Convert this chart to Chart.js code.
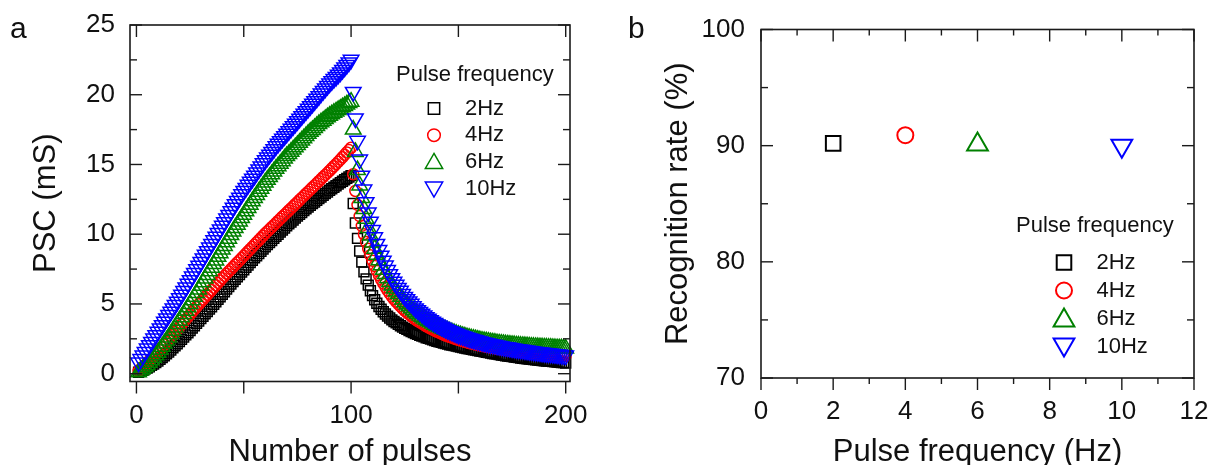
<!DOCTYPE html>
<html>
<head>
<meta charset="utf-8">
<script src="https://cdn.jsdelivr.net/npm/chart.js@4.4.1/dist/chart.umd.min.js"></script>
<style>
  html, body { margin: 0; padding: 0; background: #fff; overflow: hidden; width: 1210px; height: 465px; }
  .panel { position: absolute; top: 0; }
  #boxA { left: 0; }
  #boxB { left: 600px; }
  .tag { position: absolute; font: 30px "Liberation Sans", Arial, sans-serif; line-height: 30px; color: #111; }
</style>
</head>
<body>
<div class="panel" id="boxA"><canvas id="chartA" width="605" height="465"></canvas></div>
<div class="panel" id="boxB"><canvas id="chartB" width="640" height="465"></canvas></div>
<div class="tag" style="left:10px;top:13px">a</div>
<div class="tag" style="left:628px;top:13px">b</div>
<script>
// panel a: PSC vs pulse number (pulses 1..100 stimulated, 101..200 decay)
const pulses = Array.from({ length: 200 }, (_, i) => i + 1);

const psc2Hz = [
  0.1, 0.18, 0.25, 0.33, 0.4, 0.5, 0.6, 0.7, 0.8, 0.9,
  1.03, 1.16, 1.29, 1.42, 1.55, 1.7, 1.85, 2.0, 2.15, 2.3,
  2.46, 2.62, 2.78, 2.94, 3.1, 3.27, 3.44, 3.61, 3.78, 3.95,
  4.12, 4.29, 4.46, 4.63, 4.8, 4.98, 5.16, 5.34, 5.52, 5.7,
  5.88, 6.06, 6.24, 6.42, 6.6, 6.77, 6.94, 7.11, 7.28, 7.45,
  7.62, 7.79, 7.96, 8.13, 8.3, 8.46, 8.62, 8.78, 8.94, 9.1,
  9.25, 9.4, 9.55, 9.7, 9.85, 10.0, 10.15, 10.3, 10.45, 10.6,
  10.74, 10.88, 11.02, 11.16, 11.3, 11.43, 11.56, 11.69, 11.82, 11.95,
  12.07, 12.19, 12.31, 12.43, 12.55, 12.67, 12.79, 12.91, 13.03, 13.15,
  13.26, 13.37, 13.48, 13.59, 13.7, 13.8, 13.9, 14.0, 14.1, 14.2,
  12.2, 10.8, 9.7, 8.8, 8.0, 7.3, 6.8, 6.35, 5.95, 5.6,
  5.3, 5.05, 4.82, 4.62, 4.44, 4.28, 4.13, 3.99, 3.86, 3.74,
  3.64, 3.54, 3.44, 3.34, 3.25, 3.18, 3.1, 3.02, 2.95, 2.88,
  2.82, 2.76, 2.7, 2.64, 2.58, 2.53, 2.48, 2.43, 2.38, 2.33,
  2.29, 2.25, 2.2, 2.16, 2.12, 2.08, 2.05, 2.01, 1.98, 1.94,
  1.91, 1.88, 1.84, 1.81, 1.78, 1.75, 1.72, 1.69, 1.66, 1.63,
  1.6, 1.57, 1.54, 1.51, 1.48, 1.45, 1.42, 1.4, 1.37, 1.34,
  1.32, 1.29, 1.27, 1.24, 1.22, 1.2, 1.18, 1.15, 1.13, 1.11,
  1.09, 1.07, 1.05, 1.03, 1.01, 0.99, 0.98, 0.96, 0.95, 0.93,
  0.91, 0.9, 0.88, 0.87, 0.85, 0.83, 0.82, 0.8, 0.79, 0.77
];

const psc4Hz = [
  0.2, 0.34, 0.48, 0.61, 0.75, 0.91, 1.07, 1.23, 1.39, 1.55,
  1.73, 1.91, 2.09, 2.27, 2.45, 2.63, 2.81, 2.99, 3.17, 3.35,
  3.53, 3.71, 3.89, 4.07, 4.25, 4.43, 4.61, 4.79, 4.97, 5.15,
  5.32, 5.49, 5.66, 5.83, 6.0, 6.17, 6.34, 6.51, 6.68, 6.85,
  7.01, 7.17, 7.33, 7.49, 7.65, 7.81, 7.97, 8.13, 8.29, 8.45,
  8.61, 8.77, 8.93, 9.09, 9.25, 9.41, 9.57, 9.73, 9.89, 10.05,
  10.2, 10.35, 10.5, 10.65, 10.8, 10.95, 11.1, 11.25, 11.4, 11.55,
  11.7, 11.85, 12.0, 12.15, 12.3, 12.45, 12.6, 12.75, 12.9, 13.05,
  13.2, 13.35, 13.5, 13.65, 13.8, 13.95, 14.1, 14.25, 14.4, 14.55,
  14.71, 14.87, 15.03, 15.19, 15.35, 15.52, 15.69, 15.86, 16.03, 16.2,
  14.3, 13.1, 12.1, 11.3, 10.6, 10.0, 9.45, 8.95, 8.5, 8.1,
  7.72, 7.37, 7.05, 6.75, 6.47, 6.21, 5.97, 5.74, 5.53, 5.33,
  5.16, 4.99, 4.83, 4.66, 4.5, 4.38, 4.25, 4.13, 4.0, 3.88,
  3.78, 3.69, 3.59, 3.5, 3.4, 3.32, 3.24, 3.16, 3.08, 3.0,
  2.94, 2.87, 2.81, 2.74, 2.68, 2.63, 2.58, 2.52, 2.47, 2.42,
  2.38, 2.33, 2.29, 2.24, 2.2, 2.16, 2.13, 2.09, 2.06, 2.02,
  1.99, 1.96, 1.93, 1.9, 1.87, 1.84, 1.82, 1.79, 1.77, 1.74,
  1.72, 1.7, 1.67, 1.65, 1.63, 1.61, 1.59, 1.58, 1.56, 1.54,
  1.52, 1.51, 1.49, 1.48, 1.46, 1.45, 1.43, 1.42, 1.4, 1.39,
  1.38, 1.37, 1.35, 1.34, 1.33, 1.32, 1.31, 1.3, 1.29, 1.28
];

const psc6Hz = [
  0.1, 0.22, 0.35, 0.48, 0.6, 0.78, 0.96, 1.14, 1.32, 1.5,
  1.72, 1.94, 2.16, 2.38, 2.6, 2.84, 3.08, 3.32, 3.56, 3.8,
  4.04, 4.28, 4.52, 4.76, 5.0, 5.26, 5.52, 5.78, 6.04, 6.3,
  6.56, 6.82, 7.08, 7.34, 7.6, 7.86, 8.12, 8.38, 8.64, 8.9,
  9.16, 9.42, 9.68, 9.94, 10.2, 10.44, 10.68, 10.92, 11.16, 11.4,
  11.64, 11.88, 12.12, 12.36, 12.6, 12.82, 13.04, 13.26, 13.48, 13.7,
  13.9, 14.1, 14.3, 14.5, 14.7, 14.88, 15.06, 15.24, 15.42, 15.6,
  15.76, 15.92, 16.08, 16.24, 16.4, 16.56, 16.72, 16.88, 17.04, 17.2,
  17.34, 17.48, 17.62, 17.76, 17.9, 18.02, 18.14, 18.26, 18.38, 18.5,
  18.6, 18.7, 18.8, 18.9, 19.0, 19.1, 19.2, 19.3, 19.4, 19.5,
  17.5, 15.9, 14.6, 13.5, 12.6, 11.8, 11.1, 10.45, 9.9, 9.4,
  8.95, 8.53, 8.14, 7.78, 7.45, 7.14, 6.85, 6.58, 6.33, 6.1,
  5.9, 5.71, 5.51, 5.32, 5.12, 4.98, 4.83, 4.69, 4.54, 4.4,
  4.29, 4.18, 4.07, 3.96, 3.85, 3.76, 3.68, 3.59, 3.51, 3.42,
  3.35, 3.28, 3.22, 3.15, 3.08, 3.02, 2.97, 2.91, 2.86, 2.8,
  2.76, 2.71, 2.67, 2.62, 2.58, 2.54, 2.51, 2.47, 2.44, 2.4,
  2.37, 2.34, 2.32, 2.29, 2.26, 2.24, 2.22, 2.19, 2.17, 2.15,
  2.13, 2.11, 2.1, 2.08, 2.06, 2.05, 2.03, 2.02, 2.0, 1.99,
  1.98, 1.97, 1.95, 1.94, 1.93, 1.92, 1.91, 1.9, 1.89, 1.88,
  1.87, 1.86, 1.86, 1.85, 1.84, 1.83, 1.82, 1.82, 1.81, 1.8
];

const psc10Hz = [
  0.8, 1.05, 1.3, 1.55, 1.8, 2.04, 2.28, 2.52, 2.76, 3.0,
  3.24, 3.48, 3.72, 3.96, 4.2, 4.44, 4.68, 4.92, 5.16, 5.4,
  5.66, 5.92, 6.18, 6.44, 6.7, 6.96, 7.22, 7.48, 7.74, 8.0,
  8.26, 8.52, 8.78, 9.04, 9.3, 9.56, 9.82, 10.08, 10.34, 10.6,
  10.86, 11.12, 11.38, 11.64, 11.9, 12.14, 12.38, 12.62, 12.86, 13.1,
  13.32, 13.54, 13.76, 13.98, 14.2, 14.42, 14.64, 14.86, 15.08, 15.3,
  15.5, 15.7, 15.9, 16.1, 16.3, 16.48, 16.66, 16.84, 17.02, 17.2,
  17.38, 17.56, 17.74, 17.92, 18.1, 18.28, 18.46, 18.64, 18.82, 19.0,
  19.18, 19.36, 19.54, 19.72, 19.9, 20.08, 20.26, 20.44, 20.62, 20.8,
  20.96, 21.12, 21.28, 21.44, 21.6, 21.78, 21.96, 22.14, 22.32, 22.5,
  20.2, 18.3, 16.7, 15.35, 14.2, 13.2, 12.3, 11.55, 10.9, 10.3,
  9.78, 9.3, 8.86, 8.46, 8.09, 7.75, 7.43, 7.13, 6.85, 6.59,
  6.37, 6.15, 5.94, 5.72, 5.5, 5.34, 5.17, 5.01, 4.84, 4.68,
  4.55, 4.42, 4.3, 4.17, 4.04, 3.94, 3.84, 3.73, 3.63, 3.53,
  3.45, 3.37, 3.29, 3.2, 3.12, 3.05, 2.99, 2.92, 2.86, 2.79,
  2.74, 2.68, 2.63, 2.57, 2.52, 2.48, 2.43, 2.39, 2.34, 2.3,
  2.26, 2.22, 2.19, 2.15, 2.11, 2.08, 2.05, 2.01, 1.98, 1.95,
  1.92, 1.89, 1.87, 1.84, 1.81, 1.79, 1.76, 1.74, 1.71, 1.69,
  1.67, 1.65, 1.62, 1.6, 1.58, 1.56, 1.54, 1.52, 1.5, 1.48,
  1.46, 1.44, 1.43, 1.41, 1.39, 1.37, 1.35, 1.34, 1.32, 1.3
];

// panel b: recognition rate per pulse frequency
const freqHz = [2, 4, 6, 10];
const recognitionRate = [90.2, 90.9, 90.1, 90.0];

const freqLabels = ['2Hz', '4Hz', '6Hz', '10Hz'];
const seriesColors = ['#000000', '#ff0000', '#008000', '#0000ff'];
const markerStyles = ['rect', 'circle', 'triangle', 'triangle'];
const markerRotation = [0, 0, 0, 180];

// tick values
const xTicksA = [0, 100, 200];
const xMinorA = [50, 150];
const yTicksA = [0, 5, 10, 15, 20, 25];
const yMinorA = [2.5, 7.5, 12.5, 17.5, 22.5];
const xTicksB = [0, 2, 4, 6, 8, 10, 12];
const xMinorB = [1, 3, 5, 7, 9, 11];
const yTicksB = [70, 80, 90, 100];
const yMinorB = [75, 85, 95];

const FONT = '"Liberation Sans", Arial, sans-serif';
Chart.defaults.font.family = FONT;
Chart.defaults.color = '#111';

// box frame with inward ticks (outward on the bottom edge)
const framePlugin = {
  id: 'frame',
  afterDraw(chart, args, o) {
    const { ctx, chartArea: a } = chart;
    const xs = chart.scales.x, ys = chart.scales.y;
    const line = (x1, y1, x2, y2) => { ctx.beginPath(); ctx.moveTo(x1, y1); ctx.lineTo(x2, y2); ctx.stroke(); };
    ctx.save();
    ctx.strokeStyle = '#1a1a1a';
    ctx.lineWidth = 1.6;
    ctx.strokeRect(a.left, a.top, a.right - a.left, a.bottom - a.top);
    ctx.lineWidth = 1.4;
    const xt = (vals, len) => vals.forEach(v => {
      const p = xs.getPixelForValue(v);
      line(p, a.top, p, a.top + len);
      line(p, a.bottom, p, a.bottom + len);
    });
    const yt = (vals, len) => vals.forEach(v => {
      const p = ys.getPixelForValue(v);
      line(a.left, p, a.left + len, p);
      line(a.right, p, a.right - len, p);
    });
    xt(o.xMajor, 12); xt(o.xMinor, o.xMinorLen);
    yt(o.yMajor, 12); yt(o.yMinor, 7);
    ctx.restore();
  }
};

// in-plot legend with a title line
const legendPlugin = {
  id: 'freqLegend',
  afterDraw(chart, args, o) {
    const ctx = chart.ctx;
    ctx.save();
    ctx.font = '22px ' + FONT;
    ctx.textBaseline = 'middle';
    ctx.textAlign = 'left';
    ctx.fillStyle = '#111';
    ctx.fillText('Pulse frequency', o.titleX, o.titleY);
    freqLabels.forEach((lab, i) => {
      const y = o.y0 + i * o.dy;
      ctx.strokeStyle = seriesColors[i];
      ctx.fillStyle = 'rgba(0,0,0,0)';
      ctx.lineWidth = o.lw;
      Chart.helpers.drawPoint(ctx, {
        pointStyle: markerStyles[i], rotation: markerRotation[i],
        radius: o.radius[i], borderWidth: o.lw
      }, o.markerX, y + o.shift[i]);
      ctx.fillStyle = '#111';
      ctx.fillText(lab, o.textX, y);
    });
    ctx.restore();
  }
};

function tickFont() { return { size: 26 }; }

const radiiA = [7, 5.5, 9, 9];
const chartA = new Chart(document.getElementById('chartA'), {
  type: 'scatter',
  data: {
    datasets: [psc2Hz, psc4Hz, psc6Hz, psc10Hz].map((vals, i) => ({
      label: freqLabels[i],
      data: pulses.map((p, k) => ({ x: p, y: vals[k] })),
      pointStyle: markerStyles[i],
      pointRotation: markerRotation[i],
      pointRadius: radiiA[i],
      pointBorderWidth: 1.5,
      pointBorderColor: seriesColors[i],
      pointBackgroundColor: 'rgba(0,0,0,0)',
      showLine: false,
      clip: false,
      order: 3 - i
    }))
  },
  options: {
    responsive: false,
    devicePixelRatio: 1,
    animation: false,
    events: [],
    layout: { padding: { top: 25, right: 35, bottom: 0, left: 0 } },
    plugins: {
      legend: { display: false },
      tooltip: { enabled: false },
      frame: { xMajor: xTicksA, xMinor: xMinorA, xMinorLen: 12, yMajor: yTicksA, yMinor: yMinorA },
      freqLegend: {
        titleX: 396, titleY: 75, markerX: 434, textX: 465, y0: 108.5, dy: 26.7,
        radius: [8, 6.3, 10, 10], shift: [0, 0, 1.5, -1.5], lw: 1.5
      }
    },
    scales: {
      x: {
        type: 'linear', min: -3, max: 202, bounds: 'data',
        grid: { display: false, drawTicks: true, tickLength: 19 },
        border: { display: false },
        ticks: { font: tickFont(), color: '#111', padding: 0, maxRotation: 0, autoSkip: false },
        afterBuildTicks: s => { s.ticks = xTicksA.map(v => ({ value: v })); },
        afterFit: s => { s.height = 83.5; },
        title: { display: true, text: 'Number of pulses', font: { size: 31, lineHeight: 1 }, color: '#111', padding: { top: 0, bottom: -3 } }
      },
      y: {
        type: 'linear', min: -0.56, max: 25, bounds: 'data',
        grid: { display: false, drawTicks: true, tickLength: 15 },
        border: { display: false },
        ticks: { font: tickFont(), color: '#111', padding: 0, autoSkip: false },
        afterBuildTicks: s => { s.ticks = yTicksA.map(v => ({ value: v })); },
        afterFit: s => { s.width = 130; },
        title: { display: true, text: 'PSC (mS)', font: { size: 31, lineHeight: 1 }, color: '#111', padding: { top: 30.5, bottom: 0 } }
      }
    }
  },
  plugins: [framePlugin, legendPlugin]
});

const radiiB = [10.3, 8, 12, 12];
const chartB = new Chart(document.getElementById('chartB'), {
  type: 'scatter',
  data: {
    datasets: freqHz.map((f, i) => ({
      label: freqLabels[i],
      data: [{ x: f, y: recognitionRate[i] }],
      pointStyle: markerStyles[i],
      pointRotation: markerRotation[i],
      pointRadius: radiiB[i],
      pointBorderWidth: 2,
      pointBorderColor: seriesColors[i],
      pointBackgroundColor: 'rgba(0,0,0,0)',
      showLine: false,
      clip: false
    }))
  },
  options: {
    responsive: false,
    devicePixelRatio: 1,
    animation: false,
    events: [],
    layout: { padding: { top: 29.5, right: 46, bottom: 0, left: 0 } },
    plugins: {
      legend: { display: false },
      tooltip: { enabled: false },
      frame: { xMajor: xTicksB, xMinor: xMinorB, xMinorLen: 6, yMajor: yTicksB, yMinor: yMinorB },
      freqLegend: {
        titleX: 416, titleY: 226, markerX: 464, textX: 496.5, y0: 262.5, dy: 28,
        radius: radiiB, shift: [0, 0, 2, -2], lw: 2
      }
    },
    scales: {
      x: {
        type: 'linear', min: 0, max: 12, bounds: 'data',
        grid: { display: false, drawTicks: true, tickLength: 18.5 },
        border: { display: false },
        ticks: { font: tickFont(), color: '#111', padding: 0, maxRotation: 0, autoSkip: false },
        afterBuildTicks: s => { s.ticks = xTicksB.map(v => ({ value: v })); },
        afterFit: s => { s.height = 87; },
        title: { display: true, text: 'Pulse frequency (Hz)', font: { size: 31, lineHeight: 1 }, color: '#111', padding: { top: 0, bottom: -3 } }
      },
      y: {
        type: 'linear', min: 70, max: 100, bounds: 'data',
        grid: { display: false, drawTicks: true, tickLength: 16 },
        border: { display: false },
        ticks: { font: tickFont(), color: '#111', padding: 0, autoSkip: false },
        afterBuildTicks: s => { s.ticks = yTicksB.map(v => ({ value: v })); },
        afterFit: s => { s.width = 161; },
        title: { display: true, text: 'Recognition rate (%)', font: { size: 31, lineHeight: 1 }, color: '#111', padding: { top: 62.5, bottom: 0 } }
      }
    }
  },
  plugins: [framePlugin, legendPlugin]
});
</script>
</body>
</html>
